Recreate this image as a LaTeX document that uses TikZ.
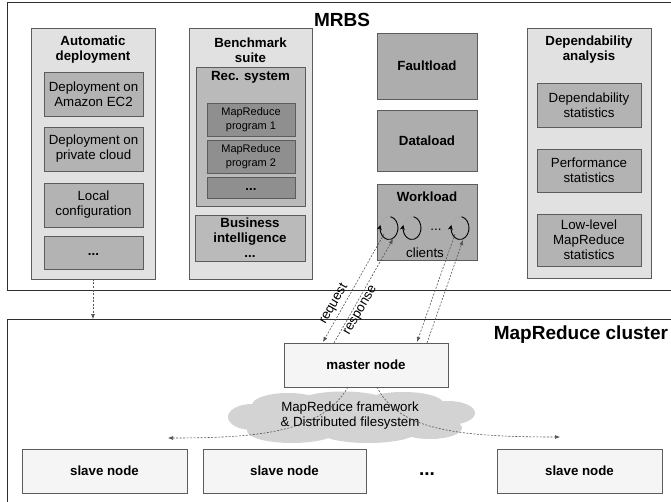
\documentclass[tikz,border=0pt]{standalone}
\usepackage{fontspec}
\setmainfont{Liberation Sans}
\usetikzlibrary{arrows.meta}
\definecolor{bd}{HTML}{5C5C5C}
\definecolor{outerbd}{HTML}{2E2E2E}
\definecolor{colfill}{HTML}{E1E1E1}
\definecolor{infill}{HTML}{B3B3B3}
\definecolor{recfill}{HTML}{BABABA}
\definecolor{mrfill}{HTML}{8F8F8F}
\definecolor{loadfill}{HTML}{ADADAD}
\definecolor{nodefill}{HTML}{F5F5F5}
\definecolor{cloudc}{HTML}{D3D3D3}
\definecolor{arrc}{HTML}{555555}
\begin{document}
\begin{tikzpicture}[x=1pt,y=-1pt,
  font=\fontsize{13.3}{15}\selectfont,
  every node/.style={inner sep=0pt,outer sep=0pt},
  outerbox/.style={draw=outerbd,line width=1pt,fill=white},
  colbox/.style={draw=bd,line width=0.9pt,fill=colfill},
  inbox/.style={draw=bd,line width=0.9pt,fill=infill,align=center},
  recbox/.style={draw=bd,line width=0.9pt,fill=recfill,align=center},
  mrbox/.style={draw=bd,line width=0.9pt,fill=mrfill,align=center,font=\fontsize{11}{13.5}\selectfont},
  loadbox/.style={draw=bd,line width=0.9pt,fill=loadfill,align=center,font=\fontsize{13.3}{15}\selectfont\bfseries},
  clbox/.style={draw=bd,line width=0.9pt,fill=nodefill,align=center,font=\fontsize{13.3}{15}\selectfont\bfseries},
  ttl/.style={align=center,font=\fontsize{13.3}{15}\selectfont\bfseries},
  bigttl/.style={font=\fontsize{19}{22}\selectfont\bfseries},
  dasharr/.style={draw=arrc,line width=0.6pt,dash pattern=on 2pt off 1.5pt,-{Latex[length=5pt,width=4pt]}},
  loopblk/.style={draw=black,line width=0.9pt,-{Stealth[length=5pt,width=5pt]}},
  loopgry/.style={draw=black!35,line width=0.6pt},
  puff/.style={fill=cloudc,draw=none}
]
\useasboundingbox (0,0) rectangle (671,502);
\clip (0,0) rectangle (671,502);

% outer containers
\node[outerbox,minimum width=683,minimum height=287] (mrbs) at (348.5,146.5) {};
\node[bigttl] (mrbst) at (342,20) {MRBS};
\node[outerbox,minimum width=683,minimum height=201] (cluster) at (348.5,419.5) {};
\node[bigttl,anchor=east] (clustert) at (668,335) {MapReduce cluster};

% Automatic deployment
\node[colbox,minimum width=124,minimum height=251] (auto) at (93,153.5) {};
\node[ttl] (autot) at (93,50) {Automatic\\deployment};
\node[inbox,minimum width=99,minimum height=44] (ec2) at (93.5,94) {Deployment on\\Amazon EC2};
\node[inbox,minimum width=99,minimum height=44] (priv) at (93.5,149) {Deployment on\\private cloud};
\node[inbox,minimum width=99,minimum height=44] (local) at (93.5,205) {Local\\configuration};
\node[inbox,minimum width=99,minimum height=33,font=\fontsize{13.3}{15}\selectfont\bfseries] (dotsA) at (93.5,252.5) {\strut...};

% Benchmark suite
\node[colbox,minimum width=123,minimum height=251] (bench) at (250.5,153.5) {};
\node[ttl] (bencht) at (250.5,50) {Benchmark\\suite};
\node[recbox,minimum width=109,minimum height=139] (rec) at (250.5,136.5) {};
\node[ttl] (rect) at (250.5,77) {Rec. system};
\node[mrbox,minimum width=88,minimum height=33] (mr1) at (251,119.5) {MapReduce\\program 1};
\node[mrbox,minimum width=88,minimum height=33] (mr2) at (251,156.5) {MapReduce\\program 2};
\node[mrbox,minimum width=88,minimum height=21,font=\fontsize{13.3}{15}\selectfont\bfseries] (dotsB) at (251,187.5) {\strut...};
\node[recbox,minimum width=110,minimum height=46,font=\fontsize{13.3}{15}\selectfont\bfseries] (bi) at (250,238) {Business\\intelligence\\...};

% loads
\node[loadbox,minimum width=100,minimum height=66] (fault) at (427,66) {Faultload};
\node[loadbox,minimum width=100,minimum height=61] (data) at (427,140.5) {Dataload};
\node[loadbox,minimum width=100,minimum height=76] (work) at (427,222) {};
\node[ttl] (workt) at (427,197) {Workload};
\node (clients) at (425,253) {clients};
\coordinate (l1) at (389,228);
\coordinate (l2) at (412,228);
\coordinate (l3) at (460,228);
\node[font=\fontsize{13.3}{15}\selectfont] (ldots) at (436,230) {...};
\foreach \c in {l1,l2,l3}{
  \draw[loopgry] (\c) ++(195:9 and 11.5) arc[start angle=195,end angle=280,x radius=9,y radius=11.5];
  \draw[loopblk] (\c) ++(-80:9 and 11.5) arc[start angle=-80,end angle=195,x radius=9,y radius=11.5];
}

% Dependability analysis
\node[colbox,minimum width=124,minimum height=250] (dep) at (589,153) {};
\node[ttl] (dept) at (589,50) {Dependability\\analysis};
\node[inbox,minimum width=104,minimum height=44] (dstat) at (589,105) {Dependability\\statistics};
\node[inbox,minimum width=104,minimum height=43] (pstat) at (589,170.5) {Performance\\statistics};
\node[inbox,minimum width=104,minimum height=52] (lstat) at (589,240) {Low-level\\MapReduce\\statistics};

% cluster
\node[clbox,minimum width=164,minimum height=44] (master) at (366,365) {master node};
% cloud drawn as overlapping puffs
\fill[puff] (252,417) ellipse [x radius=24, y radius=13];
\fill[puff] (288,405) ellipse [x radius=36, y radius=12];
\fill[puff] (343,402) ellipse [x radius=44, y radius=10.5];
\fill[puff] (403,403) ellipse [x radius=40, y radius=11];
\fill[puff] (448,413) ellipse [x radius=27, y radius=12];
\fill[puff] (292,431) ellipse [x radius=45, y radius=12];
\fill[puff] (368,432) ellipse [x radius=48, y radius=11];
\fill[puff] (430,428) ellipse [x radius=32, y radius=11];
\fill[puff] (350,418) ellipse [x radius=105, y radius=17];
\node[align=center] (cloudt) at (350,416) {MapReduce framework\\\& Distributed filesystem};
\node[clbox,minimum width=165,minimum height=44] (s1) at (104.5,471) {slave node};
\node[clbox,minimum width=163,minimum height=44] (s2) at (284.5,471) {slave node};
\node[font=\fontsize{19}{22}\selectfont\bfseries] (sdots) at (427,474) {...};
\node[clbox,minimum width=165,minimum height=44] (s3) at (579.5,471) {slave node};

% deployment arrow
\coordinate (dend) at (auto.south |- cluster.north);
\draw[dasharr] (auto.south) -- (dend);

% request / response
\coordinate (r1s) at (384,234);
\coordinate (r1e) at (323,342);
\coordinate (p1s) at (334,343);
\coordinate (p1e) at (393,239);
\coordinate (r2s) at (455,234);
\coordinate (r2e) at (417,342);
\coordinate (p2s) at (427,343);
\coordinate (p2e) at (463,240);
\draw[dasharr] (r1s) -- (r1e);
\draw[dasharr] (p1s) -- (p1e);
\draw[dasharr] (r2s) -- (r2e);
\draw[dasharr] (p2s) -- (p2e);
\node[rotate=60] (reqt) at (334,304) {request};
\node[rotate=60] (respt) at (361,311) {response};

% master to slaves
\coordinate (ml) at (348,387);
\coordinate (mr) at (377,387);
\coordinate (al) at (168,438);
\coordinate (ar) at (560,437);
\draw[dasharr] (ml) .. controls (322,432) and (260,438) .. (al);
\draw[dasharr] (mr) .. controls (398,428) and (450,437) .. (ar);
\end{tikzpicture}
\end{document}
